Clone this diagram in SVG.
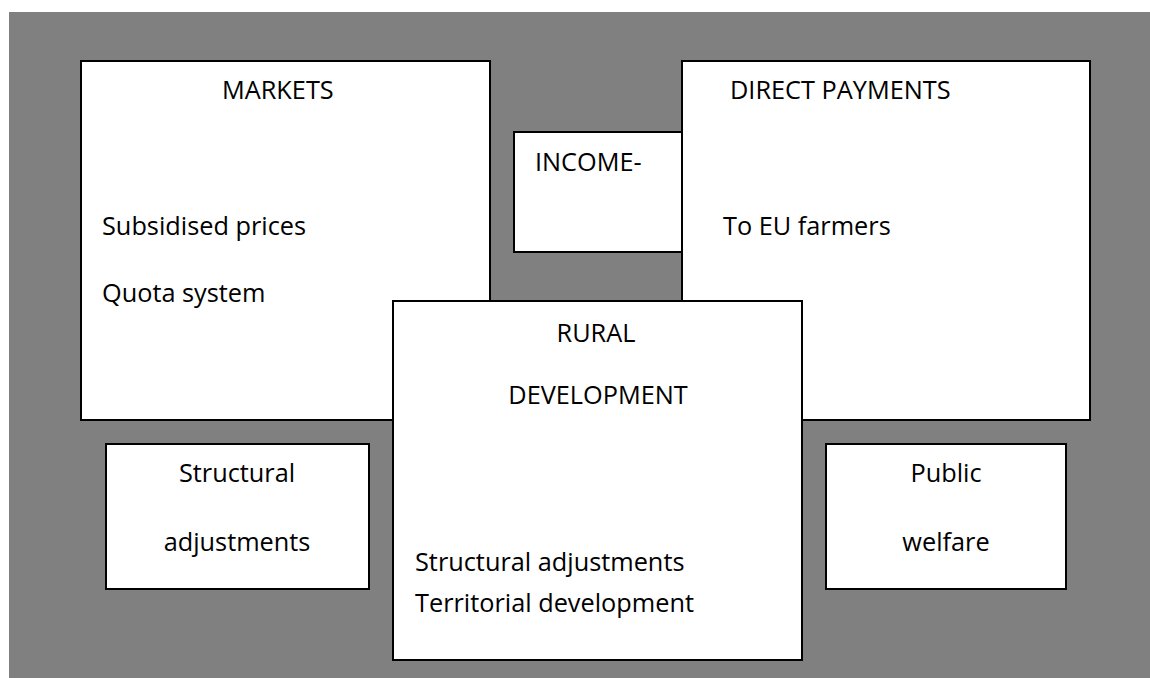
<svg xmlns="http://www.w3.org/2000/svg" width="1150" height="678" viewBox="0 0 1150 678">
  <style>
    .box { fill: #ffffff; stroke: #000000; stroke-width: 2; }
    .lbl { font-family: "Open Sans", "Liberation Sans", sans-serif; font-size: 25.3px; fill: #000000; }
    .mid { text-anchor: middle; }
  </style>
  <rect x="0" y="0" width="1150" height="678" fill="#ffffff"/>
  <rect x="9" y="12" width="1141" height="666" fill="#808080"/>

  <g id="markets">
    <rect class="box" x="81" y="61" width="409" height="359"/>
    <text class="lbl" x="222" y="99">MARKETS</text>
    <text class="lbl" x="102" y="235">Subsidised prices</text>
    <text class="lbl" x="102" y="302">Quota system</text>
  </g>

  <g id="income">
    <rect class="box" x="514" y="132" width="168" height="120"/>
    <text class="lbl" x="535" y="171">INCOME-</text>
  </g>

  <g id="direct-payments">
    <rect class="box" x="682" y="61" width="408" height="359"/>
    <text class="lbl" x="730" y="99">DIRECT PAYMENTS</text>
    <text class="lbl" x="723" y="235">To EU farmers</text>
  </g>

  <g id="rural-development">
    <rect class="box" x="393" y="301" width="409" height="359"/>
    <text class="lbl mid" x="596" y="342">RURAL</text>
    <text class="lbl mid" x="598" y="404">DEVELOPMENT</text>
    <text class="lbl" x="415" y="571">Structural adjustments</text>
    <text class="lbl" x="415" y="612">Territorial development</text>
  </g>

  <g id="structural">
    <rect class="box" x="106" y="444" width="263" height="145"/>
    <text class="lbl mid" x="237" y="482">Structural</text>
    <text class="lbl mid" x="237" y="551">adjustments</text>
  </g>

  <g id="public-welfare">
    <rect class="box" x="826" y="444" width="240" height="145"/>
    <text class="lbl mid" x="946" y="482">Public</text>
    <text class="lbl mid" x="946" y="551">welfare</text>
  </g>

  <g id="connectors"/>
</svg>
